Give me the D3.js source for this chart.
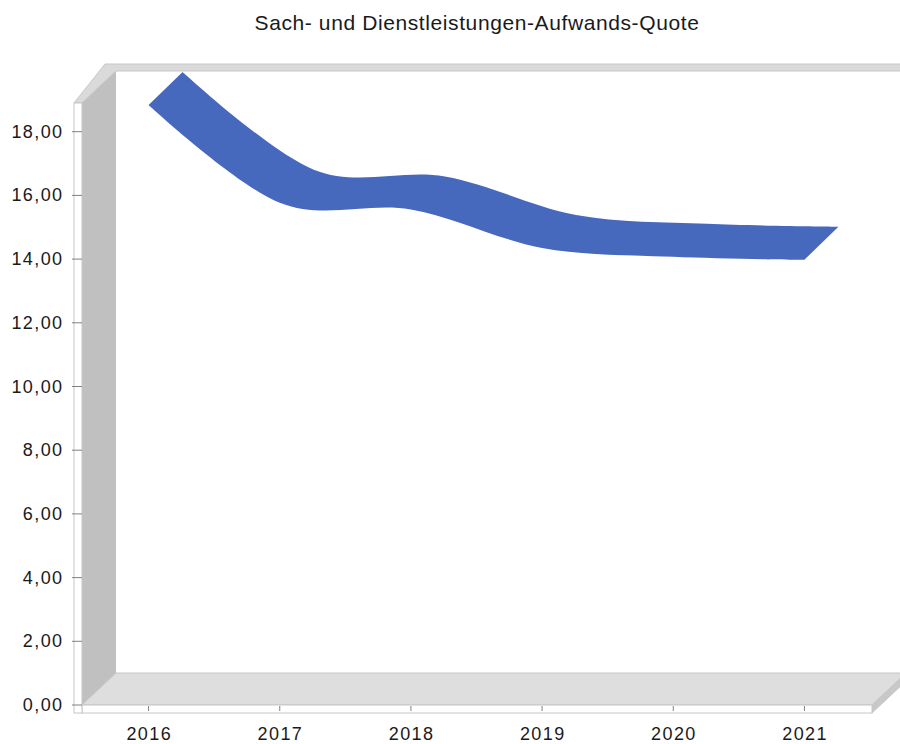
<html>
<meta charset="UTF-8">
<head>
    <title>Sach- und Dienstleistungen-Aufwands-Quote</title>
    <script src="https://d3js.org/d3.v7.min.js"></script>
    <style>
        body {
            margin: 0;
            background: white;
            font-family: "Liberation Sans", Arial, sans-serif;
        }
        .tickLabel {
            font-size: 18px;
            letter-spacing: 1.4px;
            fill: #1a1a1a;
        }
        .frame {
            stroke: #c6c6c6;
            stroke-width: 1;
        }
    </style>
</head>
<body>
    <svg id="graph" width="900" height="744"></svg>
</body>
<script>
    // chart values
    const years = ["2016", "2017", "2018", "2019", "2020", "2021"];
    const quote = [18.84, 15.77, 15.56, 14.35, 14.07, 13.98];
    const yTicks = [0, 2, 4, 6, 8, 10, 12, 14, 16, 18];
    const title = "Sach- und Dienstleistungen-Aufwands-Quote";

    const g = d3.select("svg#graph");

    // front plane of the 3d box and its depth offset
    const boxLeft = 82, boxRight = 872, boxBottom = 705, boxTop = 103;
    const depth = {x: 34, y: -32};
    const wall = 8; // thickness of the front edge strips

    const yScale = d3.scaleLinear().domain([0, 18]).range([boxBottom, 131.7]);
    const xScale = d3.scaleBand().domain(years).range([boxLeft + 1, boxRight - 2]);
    const xMid = d => xScale(d) + xScale.bandwidth() / 2;

    const fmt = v => d3.format(".2f")(v).replace(".", ",");

    // title
    g.append("text")
        .attr("x", 477)
        .attr("y", 30)
        .attr("text-anchor", "middle")
        .style("font-size", "21px")
        .style("letter-spacing", "0.6px")
        .style("fill", "#1a1a1a")
        .text(title);

    let box = g.append("g").attr("id", "box");

    // top edge of back wall + left wall
    box.append("polygon")
        .attr("class", "frame")
        .attr("fill", "#dadada")
        .attr("points", [
            [boxLeft - wall, boxTop], [boxLeft - wall + depth.x - 3, boxTop + depth.y - 7],
            [905, boxTop + depth.y - 7], [905, boxTop + depth.y], [boxLeft + depth.x, boxTop + depth.y], [boxLeft, boxTop]
        ].join(" "));

    // left side wall
    box.append("polygon")
        .attr("fill", "#c0c0c0")
        .attr("points", [
            [boxLeft, boxTop], [boxLeft + depth.x, boxTop + depth.y],
            [boxLeft + depth.x, boxBottom + depth.y], [boxLeft, boxBottom]
        ].join(" "));

    // floor
    box.append("polygon")
        .attr("class", "frame")
        .attr("fill", "#dedede")
        .attr("points", [
            [boxLeft, boxBottom], [boxLeft + depth.x, boxBottom + depth.y],
            [boxRight + depth.x, boxBottom + depth.y], [boxRight, boxBottom]
        ].join(" "));

    // right face of the floor slab
    box.append("polygon")
        .attr("class", "frame")
        .attr("fill", "#c8c8c8")
        .attr("points", [
            [boxRight, boxBottom], [boxRight + depth.x, boxBottom + depth.y],
            [boxRight + depth.x, boxBottom + depth.y + wall], [boxRight, boxBottom + wall]
        ].join(" "));

    // front strips (axis edges)
    box.append("rect")
        .attr("class", "frame")
        .attr("fill", "white")
        .attr("x", boxLeft).attr("y", boxBottom)
        .attr("width", boxRight - boxLeft).attr("height", wall);
    box.append("rect")
        .attr("class", "frame")
        .attr("fill", "white")
        .attr("x", boxLeft - wall).attr("y", boxTop)
        .attr("width", wall).attr("height", boxBottom + wall - boxTop);

    // ticks
    let axes = g.append("g").attr("id", "axes");
    axes.selectAll("line.yt")
        .data(yTicks)
        .join("line")
        .attr("class", "yt")
        .attr("x1", boxLeft - wall - 2).attr("x2", boxLeft)
        .attr("y1", d => yScale(d)).attr("y2", d => yScale(d))
        .attr("stroke", "#808080");
    axes.selectAll("text.yl")
        .data(yTicks)
        .join("text")
        .attr("class", "tickLabel yl")
        .attr("x", 63.5)
        .attr("y", d => yScale(d))
        .attr("text-anchor", "end")
        .attr("dominant-baseline", "central")
        .text(d => fmt(d));

    axes.selectAll("line.xt")
        .data(years)
        .join("line")
        .attr("class", "xt")
        .attr("x1", d => xMid(d)).attr("x2", d => xMid(d))
        .attr("y1", boxBottom + 1).attr("y2", boxBottom + 6)
        .attr("stroke", "#808080");
    axes.selectAll("text.xl")
        .data(years)
        .join("text")
        .attr("class", "tickLabel xl")
        .attr("x", d => xMid(d) + 0.7)
        .attr("y", 740)
        .attr("text-anchor", "middle")
        .text(d => d);

    // the 3d ribbon: front edge on the front plane, back edge pushed by depth
    const data = years.map((y, i) => ({year: y, value: quote[i]}));
    const ribbon = d3.area()
        .x0(d => xMid(d.year))
        .y0(d => yScale(d.value))
        .x1(d => xMid(d.year) + depth.x)
        .y1(d => yScale(d.value) + depth.y - 1)
        .curve(d3.curveCardinal.tension(0));

    g.append("path")
        .datum(data)
        .attr("d", ribbon)
        .attr("fill", "#4769bd");
</script>
</html>
